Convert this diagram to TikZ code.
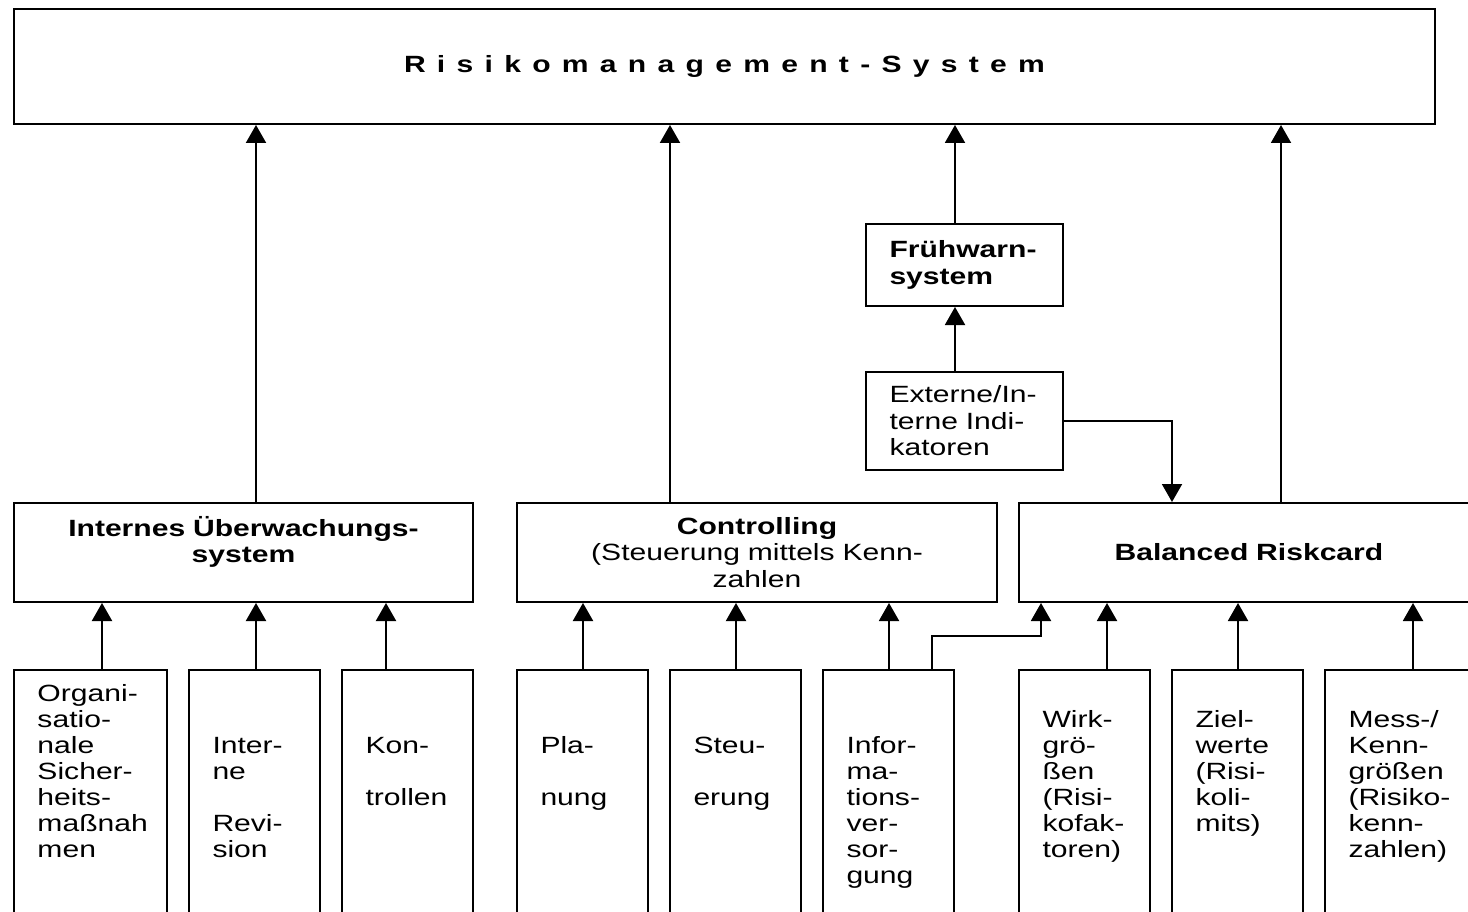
\documentclass[tikz,border=0pt]{standalone}
\usepackage{fontspec}
\setmainfont{Liberation Sans}[FakeStretch=1.28]
\usetikzlibrary{arrows.meta}

\tikzset{
  box/.style={draw, line width=2pt, rectangle},
  arr/.style={line width=2pt, -{Triangle[width=20pt,length=18pt]}},
  topbox/.style={box, minimum width=1421pt, minimum height=115pt,
    font=\fontsize{23.5}{26}\selectfont\bfseries\addfontfeature{LetterSpace=48}},
  midbox/.style={box, minimum height=99pt, inner sep=0pt, align=center, text width=#1,
    font=\fontsize{23.5}{26.5}\selectfont},
  smallbox/.style={box, inner xsep=23.5pt, inner ysep=0pt, align=left, text width=150pt,
    font=\fontsize{23.5}{26.5}\selectfont},
  lowbox/.style={box, anchor=north, align=left, inner xsep=23.5pt, inner ysep=0pt,
    text width=#1, text height=31pt, text depth=240pt, font=\fontsize{23.5}{26}\selectfont},
  lowbox/.default=84pt
}

\begin{document}
\begin{tikzpicture}[x=1pt, y=-1pt]
        \useasboundingbox (0,0) rectangle (1468,912);
        \clip (0,0) rectangle (1468,912);

        \node[topbox] (rms) at (724.5,66.5) {Risikomanagement-System};

        \node[smallbox, minimum height=82pt] (fws) at (964.5,265) {\bfseries Frühwarn-\\system};
        \node[smallbox, minimum height=98pt] (ind) at (964.5,421) {Externe/In-\\terne Indi-\\katoren};

        \node[midbox=459pt] (iues) at (243.5,552.5) {\bfseries Internes Überwachungs-\\system\\~};
        \node[midbox=480pt] (ctrl) at (757,552.5) {\textbf{Controlling}\\(Steuerung mittels Kenn-\\zahlen};
        \node[midbox=460pt] (brc) at (1249,552.5) {\bfseries Balanced Riskcard};

        \node[lowbox=106pt] (org) at (90.5,669) {Organi-\\satio-\\nale\\Sicher-\\heits-\\maßnah\\men};
        \node[lowbox] (rev) at (254.5,669) {~\\~\\Inter-\\ne\\~\\Revi-\\sion};
        \node[lowbox] (kon) at (407.5,669) {~\\~\\Kon-\\~\\trollen};
        \node[lowbox] (pla) at (582.5,669) {~\\~\\Pla-\\~\\nung};
        \node[lowbox] (steu) at (735.5,669) {~\\~\\Steu-\\~\\erung};
        \node[lowbox] (inf) at (888.5,669) {~\\~\\Infor-\\ma-\\tions-\\ver-\\sor-\\gung};
        \node[lowbox] (wirk) at (1084.5,669) {~\\Wirk-\\grö-\\ßen\\(Risi-\\kofak-\\toren)};
        \node[lowbox] (ziel) at (1237.5,669) {~\\Ziel-\\werte\\(Risi-\\koli-\\mits)};
        \node[lowbox=106pt] (mess) at (1401.5,669) {~\\Mess-/\\Kenn-\\größen\\(Risiko-\\kenn-\\zahlen)};

        \draw[arr] (iues.north -| 256,0) -- (rms.south -| 256,0);
        \draw[arr] (ctrl.north -| 670,0) -- (rms.south -| 670,0);
        \draw[arr] (fws.north -| 955,0) -- (rms.south -| 955,0);
        \draw[arr] (brc.north -| 1281,0) -- (rms.south -| 1281,0);
        \draw[arr] (ind.north -| 955,0) -- (fws.south -| 955,0);
        \draw[arr] (ind.east) -| (brc.north -| 1172,0);

        \foreach \from/\to/\x in {org/iues/102, rev/iues/256, kon/iues/386,
            pla/ctrl/583, steu/ctrl/736, inf/ctrl/889,
            wirk/brc/1107, ziel/brc/1238, mess/brc/1413}
          \draw[arr] (\from.north -| \x,0) -- (\to.south -| \x,0);
        \draw[arr] (inf.north -| 932,0) -- ++(0,-33) -| (brc.south -| 1041,0);
\end{tikzpicture}
\end{document}
